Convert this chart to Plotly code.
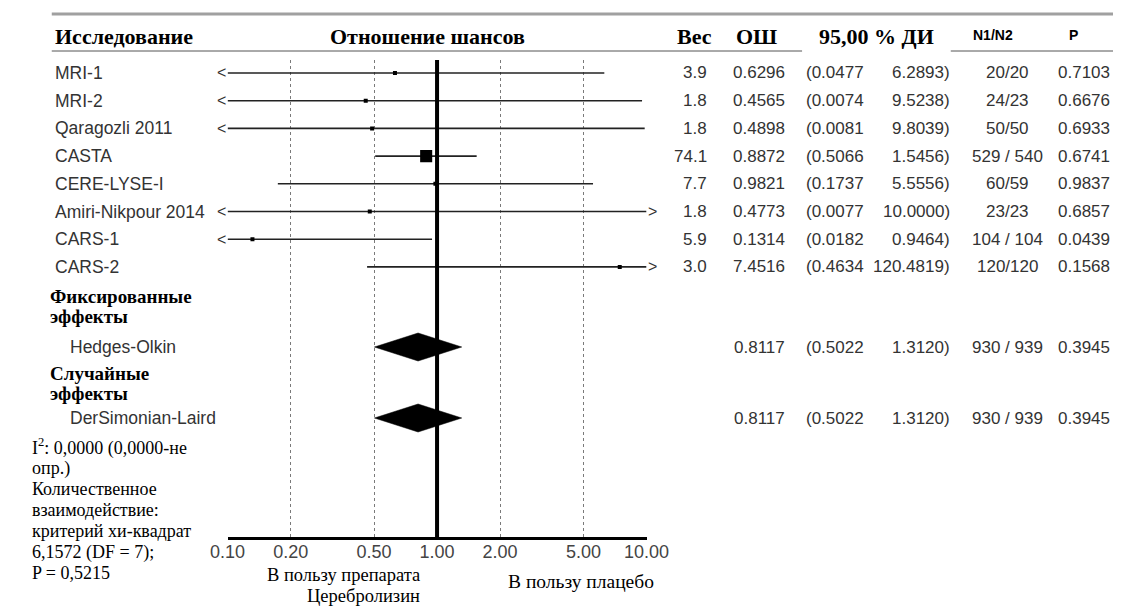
import math
import plotly.graph_objects as go

# ---------------- data ----------------
studies = ["MRI-1", "MRI-2", "Qaragozli 2011", "CASTA", "CERE-LYSE-I",
           "Amiri-Nikpour 2014", "CARS-1", "CARS-2"]
weights = [3.9, 1.8, 1.8, 74.1, 7.7, 1.8, 5.9, 3.0]
odds_ratio = [0.6296, 0.4565, 0.4898, 0.8872, 0.9821, 0.4773, 0.1314, 7.4516]
ci_low = [0.0477, 0.0074, 0.0081, 0.5066, 0.1737, 0.0077, 0.0182, 0.4634]
ci_high = [6.2893, 9.5238, 9.8039, 1.5456, 5.5556, 10.0000, 0.9464, 120.4819]
n1_n2 = ["20/20", "24/23", "50/50", "529 / 540", "60/59", "23/23", "104 / 104", "120/120"]
p_values = [0.7103, 0.6676, 0.6933, 0.6741, 0.9837, 0.6857, 0.0439, 0.1568]

pooled_groups = [["Фиксированные", "эффекты"], ["Случайные", "эффекты"]]
pooled_methods = ["Hedges-Olkin", "DerSimonian-Laird"]
pooled_or = [0.8117, 0.8117]
pooled_low = [0.5022, 0.5022]
pooled_high = [1.3120, 1.3120]
pooled_n = ["930 / 939", "930 / 939"]
pooled_p = [0.3945, 0.3945]

tick_vals = [0.1, 0.2, 0.5, 1, 2, 5, 10]
tick_text = ["0.10", "0.20", "0.50", "1.00", "2.00", "5.00", "10.00"]

header_study = "Исследование"
header_plot = "Отношение шансов"
header_cols = ["Вес", "ОШ", "95,00 % ДИ"]
header_small = ["N1/N2", "P"]
stats_lines = ["I<sup>2</sup>: 0,0000 (0,0000-не", "опр.)", "Количественное",
               "взаимодействие:", "критерий хи-квадрат", "6,1572 (DF = 7);",
               "P = 0,5215"]
favours_left = ["В пользу препарата", "Церебролизин"]
favours_right = "В пользу плацебо"

# ---------------- layout constants ----------------
W, H = 1135, 606
X_L, X_R = 218, 652          # pixel span of 0.1 .. 10
Y_TOP, Y_BOT = 60, 537       # pixel span of plot area
AX_MIN, AX_MAX = 0.1, 10.0
ROW0, ROW_STEP = 73, 27.7
row_y = [ROW0 + ROW_STEP * i for i in range(len(studies))]
pooled_y = [347, 418]
group_y = [(296, 317), (373, 393)]
DIAMOND_HALF = 14

SANS = "Liberation Sans, Arial, sans-serif"
SERIF = "Liberation Serif, Times New Roman, serif"
GREY_TXT = "#333333"

annotations = []
shapes = []


def px(x):
    return x / W


def py(y):
    return 1 - y / H


def txt(x, y, s, size, family, color="#000000", anchor="left", bold=False, pad=1):
    if bold:
        s = f"<b>{s}</b>"
    annotations.append(dict(x=px(x), y=py(y), xref="paper", yref="paper", text=s,
                            showarrow=False, xanchor=anchor, yanchor="middle",
                            borderpad=pad,
                            font=dict(size=size, family=family, color=color)))


fig = go.Figure()

# CI lines (clipped to axis range)
lx, ly = [], []
for lo, hi, y in zip(ci_low, ci_high, row_y):
    lx += [max(lo, AX_MIN), min(hi, AX_MAX), None]
    ly += [y, y, None]
fig.add_trace(go.Scatter(x=lx, y=ly, mode="lines", line=dict(color="#222222", width=1.6),
                         hoverinfo="skip", showlegend=False))

# reference line at OR = 1
fig.add_trace(go.Scatter(x=[1, 1], y=[Y_BOT, Y_TOP], mode="lines",
                         line=dict(color="black", width=4), hoverinfo="skip", showlegend=False))

# point estimates
sizes = [max(4, 1.4 * math.sqrt(w)) for w in weights]
fig.add_trace(go.Scatter(x=odds_ratio, y=row_y, mode="markers",
                         marker=dict(symbol="square", size=sizes, color="#000000",
                                     opacity=1, line=dict(width=0)),
                         showlegend=False))

# pooled diamonds
for o, lo, hi, y in zip(pooled_or, pooled_low, pooled_high, pooled_y):
    fig.add_trace(go.Scatter(x=[lo, o, hi, o, lo],
                             y=[y, y - DIAMOND_HALF, y, y + DIAMOND_HALF, y],
                             mode="lines", fill="toself", fillcolor="black",
                             line=dict(color="black", width=0.5), showlegend=False))

# clipping arrows
for lo, hi, y in zip(ci_low, ci_high, row_y):
    if lo < AX_MIN:
        annotations.append(dict(x=math.log10(AX_MIN), y=py(y), xref="x", yref="paper",
                                text="&lt;", showarrow=False, xanchor="right", yanchor="middle",
                                font=dict(size=16, family=SANS, color=GREY_TXT)))
    if hi >= AX_MAX:
        annotations.append(dict(x=math.log10(AX_MAX), y=py(y), xref="x", yref="paper",
                                text="&gt;", showarrow=False, xanchor="left", yanchor="middle",
                                font=dict(size=16, family=SANS, color=GREY_TXT)))

# header
txt(37, 36, header_study, 22, SERIF, bold=True)
txt(425, 36, header_plot, 22, SERIF, anchor="center", bold=True)
for s, xc in zip(header_cols, [702, 766, 890]):
    txt(xc, 36, s, 22, SERIF, anchor="center", bold=True)
for s, xc in zip(header_small, [1011, 1094]):
    txt(xc, 35, s, 14, SANS, anchor="center", bold=True)

shapes.append(dict(type="line", xref="paper", yref="paper", x0=px(36), x1=1, y0=py(14), y1=py(14),
                   line=dict(color="#a0a0a0", width=3)))
shapes.append(dict(type="line", xref="paper", yref="paper", x0=px(36), x1=px(813), y0=py(51), y1=py(51),
                   line=dict(color="#555555", width=1)))
shapes.append(dict(type="line", xref="paper", yref="paper", x0=px(967), x1=1, y0=py(51), y1=py(51),
                   line=dict(color="#555555", width=1)))

# study rows
for i, y in enumerate(row_y):
    txt(37, y, studies[i], 17.5, SANS, GREY_TXT)
    txt(717, y, f"{weights[i]:.1f}", 17, SANS, GREY_TXT, anchor="right")
    txt(797, y, f"{odds_ratio[i]:.4f}", 17, SANS, GREY_TXT, anchor="right")
    txt(815, y, f"({ci_low[i]:.4f}", 17, SANS, GREY_TXT)
    txt(968, y, f"{ci_high[i]:.4f})", 17, SANS, GREY_TXT, anchor="right")
    txt(1026, y, n1_n2[i], 17, SANS, GREY_TXT, anchor="center")
    txt(1134, y, f"{p_values[i]:.4f}", 17, SANS, GREY_TXT, anchor="right")

# pooled rows
for k, y in enumerate(pooled_y):
    g1, g2 = group_y[k]
    txt(33, g1, pooled_groups[k][0], 19, SERIF, bold=True, pad=0)
    txt(33, g2, pooled_groups[k][1], 19, SERIF, bold=True, pad=0)
    txt(53, y, pooled_methods[k], 17.5, SANS, GREY_TXT)
    txt(797, y, f"{pooled_or[k]:.4f}", 17, SANS, GREY_TXT, anchor="right")
    txt(815, y, f"({pooled_low[k]:.4f}", 17, SANS, GREY_TXT)
    txt(968, y, f"{pooled_high[k]:.4f})", 17, SANS, GREY_TXT, anchor="right")
    txt(1026, y, pooled_n[k], 17, SANS, GREY_TXT, anchor="center")
    txt(1134, y, f"{pooled_p[k]:.4f}", 17, SANS, GREY_TXT, anchor="right")

# heterogeneity text
for j, s in enumerate(stats_lines):
    txt(15, 447 + 21 * j, s, 18, SERIF, pad=0)

# favours labels
txt(418, 574.5, favours_left[0], 18.5, SERIF, anchor="right", pad=0)
txt(418, 595.5, favours_left[1], 18.5, SERIF, anchor="right", pad=0)
txt(584, 581, favours_right, 19.5, SERIF, anchor="center", pad=0)

fig.update_layout(
    width=W, height=H, margin=dict(l=0, r=0, t=0, b=0),
    paper_bgcolor="white", plot_bgcolor="white",
    showlegend=False, annotations=annotations, shapes=shapes,
    xaxis=dict(type="log", range=[math.log10(AX_MIN) - 0.0005, math.log10(AX_MAX) + 0.0005],
               domain=[X_L / W, X_R / W], tickvals=tick_vals, ticktext=tick_text,
               showgrid=True, gridcolor="#7a7a7a", griddash="dot", gridwidth=1,
               showline=True, linecolor="black", linewidth=3, zeroline=False,
               ticks="", ticklabelstandoff=-4,
               tickfont=dict(size=18, family=SANS, color="#444444"),
               fixedrange=True),
    yaxis=dict(range=[Y_BOT, Y_TOP], domain=[1 - Y_BOT / H, 1 - Y_TOP / H],
               showgrid=False, zeroline=False, showline=False, showticklabels=False,
               ticks="", fixedrange=True),
)

fig.write_html("out.html")
